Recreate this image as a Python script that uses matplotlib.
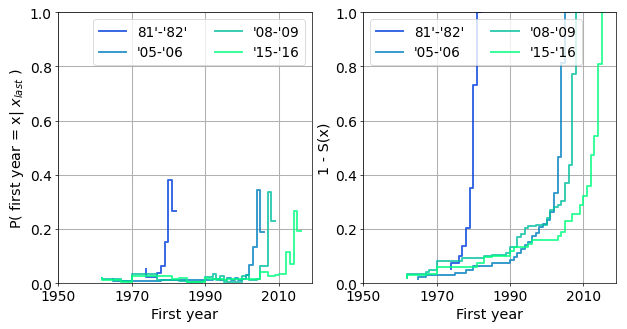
import numpy as np
import matplotlib
matplotlib.use("Agg")
import matplotlib.pyplot as plt

seasons = ["81'-'82'", "'05-'06", "'08-'09", "'15-'16"]

years_81 = [1974, 1976, 1977, 1978, 1979, 1980, 1981, 1982]
p_81 = [0.054, 0.022, 0.024, 0.037, 0.065, 0.15, 0.38, 0.268]

years_05 = [1965, 1967, 1975, 1978, 1980, 1985, 1990, 1991, 1992, 1993, 1994,
            1995, 1996, 1997, 1998, 1999, 2000, 2001, 2002, 2003, 2004, 2005, 2006]
p_05 = [0.015, 0.008, 0.007, 0.008, 0.012, 0.012, 0.012, 0.012, 0.012, 0.015, 0.014,
        0.013, 0.013, 0.02, 0.013, 0.02, 0.012, 0.015, 0.03, 0.068, 0.135, 0.345, 0.189]

years_08 = [1962, 1967, 1968, 1970, 1977, 1983, 1985, 1989, 1990, 1992, 1993, 1994,
            1995, 1997, 2000, 2001, 2002, 2003, 2004, 2005, 2006, 2007, 2008, 2009]
p_08 = [0.018, 0.015, 0.009, 0.008, 0.032, 0.011, 0.007, 0.005, 0.008, 0.022, 0.035, 0.01,
        0.025, 0.005, 0.005, 0.025, 0.03, 0.01, 0.01, 0.015, 0.065, 0.065, 0.336, 0.229]

years_15 = [1962, 1967, 1970, 1981, 1983, 1985, 1990, 1991, 1995, 1996, 2003, 2004,
            2005, 2007, 2009, 2010, 2011, 2012, 2013, 2014, 2015, 2016]
p_15 = [0.02, 0.01, 0.005, 0.025, 0.015, 0.02, 0.005, 0.02, 0.015, 0.01, 0.015, 0.015,
        0.015, 0.04, 0.027, 0.03, 0.035, 0.035, 0.115, 0.07, 0.265, 0.193]

all_years = [years_81, years_05, years_08, years_15]
all_p = [p_81, p_05, p_08, p_15]

colors = plt.cm.winter(np.linspace(0.25, 1.0, 4))

# drawn at 10in wide and a low dpi so text, ticks and pads shrink together
fig = plt.figure(figsize=(10, 5.263), dpi=62.7)
ax1 = fig.add_axes([0.0925, 0.139, 0.405, 0.821])
ax2 = fig.add_axes([0.5794, 0.139, 0.4035, 0.821])

for yrs, p, lab, c in zip(all_years, all_p, seasons, colors):
    ax1.step(yrs, p, where='pre', color=c, alpha=0.8, lw=2.2, label=lab)
    ax2.step(yrs, np.cumsum(p), where='pre', color=c, alpha=0.8, lw=2.2, label=lab)

for ax in (ax1, ax2):
    ax.set_xlim(1950, 2019)
    ax.set_ylim(0, 1)
    ax.set_xticks([1950, 1970, 1990, 2010])
    ax.set_yticks([0.0, 0.2, 0.4, 0.6, 0.8, 1.0])
    ax.tick_params(labelsize=16)
    ax.grid(True, lw=1.2)
    ax.set_xlabel("First year", fontsize=16.5)

ax1.set_ylabel("P( first year = x| $x_{last}$ )", fontsize=16.5)
ax2.set_ylabel("1 - S(x)", fontsize=16.5)
ax1.legend(loc='upper right', ncol=2, fontsize=15.7)
ax2.legend(loc='upper left', ncol=2, fontsize=15.7)

fig.savefig("out.png", dpi=62.7)
